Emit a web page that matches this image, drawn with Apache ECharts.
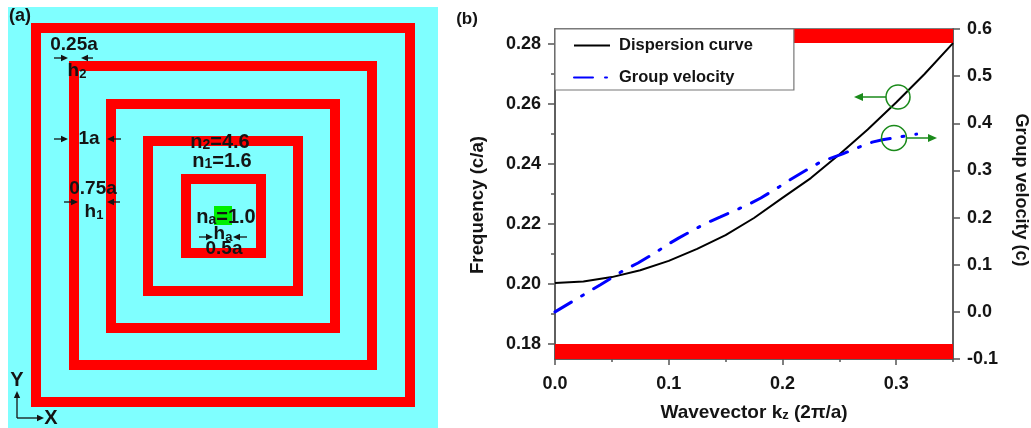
<!DOCTYPE html>
<html>
<head>
<meta charset="utf-8">
<style>html,body{margin:0;padding:0;background:#fff}#c{width:1031px;height:428px}</style>
<script src="https://cdn.jsdelivr.net/npm/echarts@6/dist/echarts.min.js"></script>
</head>
<body>
<div id="c"></div>
<script>
// Panel (b) data
const dispersionX = [0, 0.025, 0.05, 0.075, 0.1, 0.125, 0.15, 0.175, 0.2, 0.225, 0.25, 0.275, 0.3, 0.325, 0.35];
const dispersionY = [0.2003, 0.2008, 0.2023, 0.2046, 0.2077, 0.2117, 0.2163, 0.2220, 0.2287, 0.2353, 0.2432, 0.2515, 0.2605, 0.2700, 0.2803];
const velocityX = [0, 0.0396, 0.0624, 0.073, 0.088, 0.0985, 0.109, 0.125, 0.1346, 0.145, 0.161, 0.171, 0.181, 0.197, 0.2067, 0.224, 0.2343, 0.253, 0.27, 0.279, 0.288, 0.308, 0.318];
const velocityY = [0, 0.057, 0.091, 0.1036, 0.125, 0.142, 0.157, 0.178, 0.19, 0.201, 0.218, 0.229, 0.2415, 0.265, 0.28, 0.305, 0.319, 0.335, 0.352, 0.36, 0.365, 0.373, 0.377];
const freqTicks = [0.18, 0.20, 0.22, 0.24, 0.26, 0.28];
const freqMinorTicks = [0.19, 0.21, 0.23, 0.25, 0.27];
const kTicks = [0, 0.1, 0.2, 0.3];
const kMinorTicks = [0.05, 0.15, 0.25, 0.35];
const velocityTicks = [-0.1, 0, 0.1, 0.2, 0.3, 0.4, 0.5, 0.6];
const bandGaps = [[0.175, 0.18], [0.2803, 0.285]];
// Panel (a) data: nested square rings (left, top, right, bottom)
const rings = [[31, 23, 415, 407], [69, 61, 377, 370], [106, 99, 340, 333], [143, 136, 303, 296], [181, 174, 266, 258]];
const airCore = [[214, 206, 232, 225]];

const FONT = '"Liberation Sans", Arial, sans-serif';
const INK = '#141414', AXIS = '#555555', GREEN = '#1a8a1a';

function pairs(a, b) { return a.map((v, i) => [v, b[i]]); }

function label(x, y, text, size) {
  size = size || 19;
  return {
    type: 'text', x, y, z: 100, silent: true,
    style: {
      text, align: 'center', verticalAlign: 'middle', fill: INK,
      rich: {
        m: { font: 'bold ' + size + 'px ' + FONT, fill: INK },
        s: { font: 'bold ' + Math.round(size * 0.7) + 'px ' + FONT, fill: INK, verticalAlign: 'bottom' }
      }
    }
  };
}
function arrow(x1, y1, x2, y2, color, w, head) {
  const a = Math.atan2(y2 - y1, x2 - x1), h = head || 7, s = h * 0.45;
  const bx = x2 - Math.cos(a) * h, by = y2 - Math.sin(a) * h;
  return [
    { type: 'line', z: 100, silent: true, shape: { x1, y1, x2: bx, y2: by }, style: { stroke: color, lineWidth: w || 1.3 } },
    { type: 'polygon', z: 100, silent: true, shape: { points: [[x2, y2], [bx - Math.sin(a) * s, by + Math.cos(a) * s], [bx + Math.sin(a) * s, by - Math.cos(a) * s]] }, style: { fill: color } }
  ];
}
function circle(cx, cy, r) {
  return { type: 'circle', z: 100, silent: true, shape: { cx, cy, r }, style: { fill: 'none', stroke: GREEN, lineWidth: 1.5 } };
}

const graphicElements = [
  label(20, 16, '{m|(a)}', 18), label(467, 19, '{m|(b)}', 17),
  label(74, 45, '{m|0.25a}'), label(77, 71, '{m|h}{s|2}'),
  label(89, 139, '{m|1a}'), label(93, 189, '{m|0.75a}'), label(94, 212, '{m|h}{s|1}'),
  label(220, 142, '{m|n}{s|2}{m|=4.6}', 20), label(222, 161, '{m|n}{s|1}{m|=1.6}', 20),
  label(226, 217, '{m|n}{s|a}{m|=1.0}', 20), label(223, 234, '{m|h}{s|a}'), label(224, 249, '{m|0.5a}'),
  label(17, 380, '{m|Y}', 20), label(51, 418, '{m|X}', 20),
  ...arrow(54, 58, 68, 58, INK), ...arrow(93, 58, 81, 58, INK),
  ...arrow(54, 139, 68, 139, INK), ...arrow(121, 139, 107, 139, INK),
  ...arrow(64, 202, 78, 202, INK), ...arrow(120, 202, 107, 202, INK),
  ...arrow(199, 237, 213, 237, INK), ...arrow(247, 237, 233, 237, INK),
  ...arrow(17, 418, 17, 391, INK), ...arrow(17, 418, 44, 418, INK),
  circle(898, 97, 12), circle(894, 138, 12.5),
  ...arrow(886, 97, 854, 97, GREEN, 1.5, 9), ...arrow(907, 138, 937, 138, GREEN, 1.5, 9)
];

const tickFont = { fontFamily: FONT, fontWeight: 'bold', fontSize: 18, color: INK };
const BW = 10;
const chart = echarts.init(document.getElementById('c'), null, { renderer: 'canvas' });
chart.setOption({
  animation: false,
  backgroundColor: '#fff',
  grid: [
    { left: 555, top: 29, width: 398, height: 330, outerBoundsMode: 'none', show: true, borderColor: AXIS, borderWidth: 1.5, backgroundColor: 'transparent' },
    { left: 8, top: 7, width: 430, height: 421, outerBoundsMode: 'none', show: true, borderWidth: 0, backgroundColor: '#7fffff' }
  ],
  legend: {
    left: 555, top: 29, orient: 'vertical', align: 'left',
    backgroundColor: '#fff', borderColor: '#777', borderWidth: 1.2,
    padding: [8, 41, 4, 18], itemWidth: 36, itemHeight: 14, itemGap: 15,
    selectedMode: false, z: 50,
    itemStyle: { color: 'transparent', borderWidth: 0, opacity: 0 },
    textStyle: { fontFamily: FONT, fontWeight: 'bold', fontSize: 16.5, color: INK, padding: [0, 0, 0, 4] },
    data: ['Dispersion curve', 'Group velocity']
  },
  xAxis: [
    { type: 'value', gridIndex: 0, position: 'bottom', min: 0, max: 0.35, splitLine: { show: false },
      axisLine: { show: true, onZero: false, lineStyle: { color: AXIS, width: 1.5 } },
      axisTick: { show: true, length: 6, customValues: kTicks, lineStyle: { color: AXIS, width: 1.5 } },
      axisLabel: { ...tickFont, margin: 16, customValues: kTicks, formatter: v => v.toFixed(1) },
      name: '{t|Wavevector k}{u|z}{t| (2π/a)}', nameLocation: 'middle', nameGap: 44,
      nameTextStyle: { rich: {
        t: { fontFamily: FONT, fontWeight: 'bold', fontSize: 19, color: INK },
        u: { fontFamily: FONT, fontWeight: 'bold', fontSize: 13, color: INK, verticalAlign: 'bottom' } } } },
    { type: 'value', gridIndex: 0, position: 'bottom', min: 0, max: 0.35, splitLine: { show: false },
      axisLine: { show: false, onZero: false },
      axisTick: { show: true, length: 3, customValues: kMinorTicks, lineStyle: { color: AXIS, width: 1.5 } },
      axisLabel: { show: false } },
    { type: 'value', gridIndex: 1, min: 0, max: 430, show: false },
  ],
  yAxis: [
    { type: 'value', gridIndex: 0, position: 'left', min: 0.175, max: 0.285, splitLine: { show: false },
      axisLine: { show: true, onZero: false, lineStyle: { color: AXIS, width: 1.5 } },
      axisTick: { show: true, length: 7, customValues: freqTicks, lineStyle: { color: AXIS, width: 1.5 } },
      axisLabel: { ...tickFont, margin: 14, customValues: freqTicks, formatter: v => v.toFixed(2) },
      name: 'Frequency (c/a)', nameLocation: 'middle', nameGap: 68,
      nameTextStyle: { fontFamily: FONT, fontWeight: 'bold', fontSize: 18.7, color: INK, padding: [0, 22, 0, 0] } },
    { type: 'value', gridIndex: 0, position: 'right', min: -0.1, max: 0.6, splitLine: { show: false },
      axisLine: { show: true, onZero: false, lineStyle: { color: AXIS, width: 1.5 } },
      axisTick: { show: true, length: 7, customValues: velocityTicks, lineStyle: { color: AXIS, width: 1.5 } },
      axisLabel: { ...tickFont, margin: 14, customValues: velocityTicks, formatter: v => v.toFixed(1) },
      name: 'Group velocity (c)', nameLocation: 'middle', nameGap: 59, nameRotate: -90,
      nameTextStyle: { fontFamily: FONT, fontWeight: 'bold', fontSize: 18, color: INK, padding: [0, 8, 0, 0] } },
    { type: 'value', gridIndex: 0, position: 'left', min: 0.175, max: 0.285, splitLine: { show: false },
      axisLine: { show: false, onZero: false },
      axisTick: { show: true, length: 4, customValues: freqMinorTicks, lineStyle: { color: AXIS, width: 1.5 } },
      axisLabel: { show: false } },
    { type: 'value', gridIndex: 1, min: 0, max: 421, inverse: true, show: false }
  ],
  series: [
    { name: 'Dispersion curve', type: 'line', xAxisIndex: 0, yAxisIndex: 0, z: 5,
      data: pairs(dispersionX, dispersionY), showSymbol: false, symbol: 'none', smooth: false,
      lineStyle: { color: '#000', width: 2 }, itemStyle: { color: '#000' },
      markArea: { silent: true, z: 1, itemStyle: { color: '#ff0000', opacity: 1 },
        data: bandGaps.map(b => [{ xAxis: 0, yAxis: b[0] }, { xAxis: 0.35, yAxis: b[1] }]) } },
    { name: 'Group velocity', type: 'line', xAxisIndex: 0, yAxisIndex: 1, z: 6,
      data: pairs(velocityX, velocityY), showSymbol: false, symbol: 'none', smooth: false,
      lineStyle: { color: '#0000ff', width: 3, type: [19, 12, 2, 12], cap: 'round' }, itemStyle: { color: '#0000ff' } },
    { type: 'custom', xAxisIndex: 2, yAxisIndex: 3, silent: true, z: 3, clip: false,
      encode: { x: [0, 2], y: [1, 3] },
      data: rings.map(r => [r[0] - 8, r[1] - 7, r[2] - 8, r[3] - 7]),
      renderItem: (p, api) => {
        const a = api.coord([api.value(0), api.value(1)]), b = api.coord([api.value(2), api.value(3)]);
        const st = { fill: '#ff0000' };
        const w = b[0] - a[0], h = b[1] - a[1];
        return { type: 'group', children: [
          { type: 'rect', shape: { x: a[0], y: a[1], width: w, height: BW }, style: st },
          { type: 'rect', shape: { x: a[0], y: b[1] - BW, width: w, height: BW }, style: st },
          { type: 'rect', shape: { x: a[0], y: a[1], width: BW, height: h }, style: st },
          { type: 'rect', shape: { x: b[0] - BW, y: a[1], width: BW, height: h }, style: st }
        ] };
      } },
    { type: 'custom', xAxisIndex: 2, yAxisIndex: 3, silent: true, z: 4, clip: false,
      encode: { x: [0, 2], y: [1, 3] },
      data: airCore.map(r => [r[0] - 8, r[1] - 7, r[2] - 8, r[3] - 7]),
      renderItem: (p, api) => {
        const a = api.coord([api.value(0), api.value(1)]), b = api.coord([api.value(2), api.value(3)]);
        return { type: 'rect', shape: { x: a[0], y: a[1], width: b[0] - a[0], height: b[1] - a[1] }, style: { fill: '#00ee00' } };
      } }
  ],
  graphic: { elements: graphicElements }
});
</script>
</body>
</html>
